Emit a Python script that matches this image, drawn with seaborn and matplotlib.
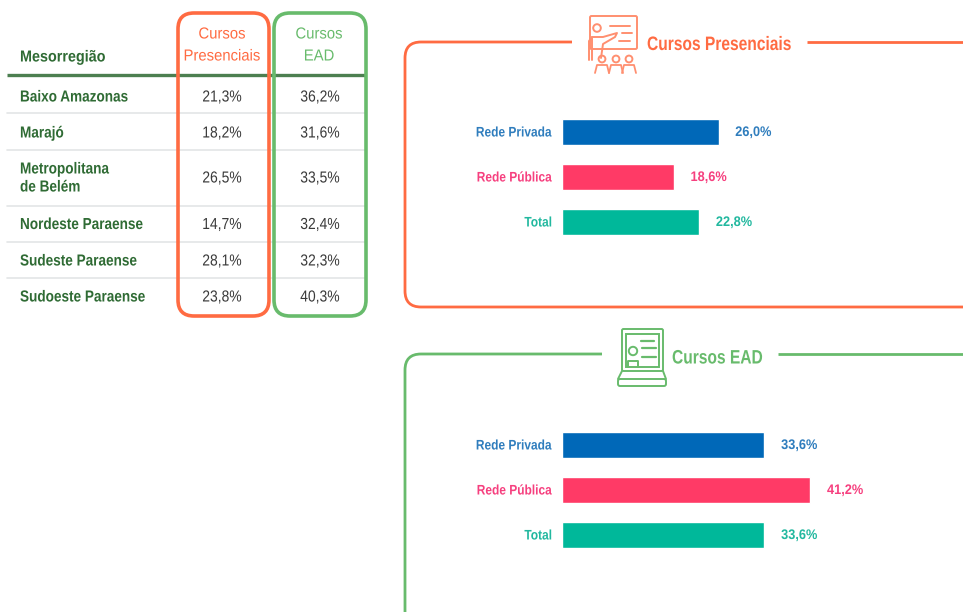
import matplotlib
matplotlib.use("Agg")
import matplotlib.pyplot as plt
from matplotlib.patches import FancyBboxPatch, PathPatch, Circle, Rectangle
from matplotlib.patheffects import AbstractPathEffect
from matplotlib.path import Path
from matplotlib.transforms import Affine2D
import pandas as pd
import seaborn as sns

regions = ["Baixo Amazonas", "Marajó", "Metropolitana\nde Belém", "Nordeste Paraense", "Sudeste Paraense", "Sudoeste Paraense"]
presencial_regions = [21.3, 18.2, 26.5, 14.7, 28.1, 23.8]
ead_regions = [36.2, 31.6, 33.5, 32.4, 32.3, 40.3]
networks = ["Rede Privada", "Rede Pública", "Total"]
presencial_network = [26.0, 18.6, 22.8]
ead_network = [33.6, 41.2, 33.6]

ORANGE = "#FF6B42"
GREEN = "#68BB6C"
DARK = "#2F6B34"
PALETTE = {"Rede Privada": "#0068B8", "Rede Pública": "#FF3A66", "Total": "#00B89A"}
TEXTCOL = {"Rede Privada": "#2F7DBD", "Rede Pública": "#F6407F", "Total": "#22B89F"}

sns.set_theme(style="white")
plt.rcParams["font.family"] = ["Liberation Sans", "DejaVu Sans"]

W, H = 963, 612
fig = plt.figure(figsize=(W / 100, H / 100), dpi=100, facecolor="white")
bg = fig.add_axes([0, 0, 1, 1])
bg.set_xlim(0, W)
bg.set_ylim(H, 0)
bg.axis("off")


class Squeeze(AbstractPathEffect):
    """Condense real text horizontally around a fixed display x."""

    def __init__(self, factor, pivot):
        super().__init__()
        self.factor = factor
        self.pivot = pivot

    def draw_path(self, renderer, gc, tpath, affine, rgbFace=None):
        extra = Affine2D().translate(-self.pivot, 0).scale(self.factor, 1).translate(self.pivot, 0)
        renderer.draw_path(gc, tpath, affine + extra, rgbFace)


squeezed = []


def label(x, y, s, factor, **kw):
    t = bg.text(x, y, s, va="center", **kw)
    squeezed.append((t, factor))
    return t


def fmt(v):
    return f"{v:.1f}".replace(".", ",") + "%"


# table
row_y = [97, 133, 178, 224.5, 261, 297]
for y in [113, 150, 206, 242, 278]:
    bg.plot([7, 365], [y, y], color="#E3E5E6", lw=1.2, zorder=1)
bg.plot([7, 365], [74.5, 74.5], color="#4C7F50", lw=2.4, zorder=2, solid_capstyle="butt")
label(20, 57, "Mesorregião", 0.9, color=DARK, fontsize=11.5, fontweight="bold", ha="left")
for r, y, a, b in zip(regions, row_y, presencial_regions, ead_regions):
    label(20, y, r, 0.85, color=DARK, fontsize=11.5, fontweight="bold", ha="left", linespacing=1.25)
    label(222, y, fmt(a), 0.87, color="#3A3A3A", fontsize=11.5, ha="center")
    label(320, y, fmt(b), 0.87, color="#3A3A3A", fontsize=11.5, ha="center")
for x, col, lines in [(222, ORANGE, ["Cursos", "Presenciais"]), (319, GREEN, ["Cursos", "EAD"])]:
    label(x, 34, lines[0], 0.93, color=col, fontsize=11.5, ha="center")
    label(x, 56, lines[1], 0.93, color=col, fontsize=11.5, ha="center")
for x0, x1, col in [(178, 269, ORANGE), (274, 366, GREEN)]:
    bg.add_patch(FancyBboxPatch((x0 + 16, 13 + 16), x1 - x0 - 32, 303 - 32,
                                boxstyle="round,pad=16,rounding_size=16",
                                fc="none", ec=col, lw=2.6, zorder=3))


# panel frames
def frame(y0, y1, x_left_end, x_right_start, col):
    r = 16
    verts = [(x_left_end, y0), (405 + r, y0), (405, y0), (405, y0 + r), (405, y1 - r), (405, y1), (405 + r, y1), (970, y1)]
    codes = [Path.MOVETO, Path.LINETO, Path.CURVE3, Path.CURVE3, Path.LINETO, Path.CURVE3, Path.CURVE3, Path.LINETO]
    bg.add_patch(PathPatch(Path(verts, codes), fc="none", ec=col, lw=2.0))
    bg.plot([x_right_start, 970], [y0, y0], color=col, lw=2.0, solid_capstyle="butt")


frame(42, 307, 572, 807, ORANGE)
frame(354, 640, 602, 778, GREEN)
label(647, 45.5, "Cursos Presenciais", 0.8, color=ORANGE, fontsize=14, fontweight="bold", ha="left")
label(672, 359, "Cursos EAD", 0.8, color=GREEN, fontsize=14, fontweight="bold", ha="left")

# presentation icon
ic = dict(fc="none", ec="#FF8F70", lw=1.4)
bg.add_patch(FancyBboxPatch((590, 16), 47, 33, boxstyle="round,pad=0,rounding_size=1.5", **ic))
bg.add_patch(Circle((597, 28), 3.8, **ic))
for x0, x1, y in [(610, 630, 26), (622, 632, 33), (619, 630, 41)]:
    bg.plot([x0, x1], [y, y], color="#FF8F70", lw=1.4)
bg.plot([589, 589, 592, 592], [60, 41, 37, 60], color="#FF8F70", lw=1.4)
bg.plot([592, 603, 617, 615, 603, 601], [37, 37, 33, 37, 44, 58], color="#FF8F70", lw=1.4)
for x in [602, 616, 629]:
    bg.add_patch(Circle((x, 59), 3.4, **ic))
    bg.plot([x - 7, x - 5, x + 5, x + 7], [73, 65, 65, 73], color="#FF8F70", lw=1.3)

# laptop icon
ic2 = dict(fc="none", ec=GREEN, lw=1.4)
bg.add_patch(FancyBboxPatch((622, 329), 41, 42, boxstyle="round,pad=0,rounding_size=1.5", **ic2))
bg.add_patch(Rectangle((626, 334), 33, 33, **ic2))
bg.add_patch(Circle((633, 351), 4.2, **ic2))
bg.plot([628, 628, 638, 638], [367, 361, 361, 367], color=GREEN, lw=1.4)
for x0, x1, y in [(641, 654, 341), (642, 656, 348), (642, 656, 357)]:
    bg.plot([x0, x1], [y, y], color=GREEN, lw=1.6)
bg.add_patch(FancyBboxPatch((618, 379), 48, 7, boxstyle="round,pad=0,rounding_size=2", **ic2))
bg.plot([622, 618], [371, 379], color=GREEN, lw=1.4)
bg.plot([663, 666], [371, 379], color=GREEN, lw=1.4)


# bar panels: x 562 + 6.04 px per percentage point
def bars(values, top):
    left, width = 561.5, 6.04 * 50
    height = 135
    ax = fig.add_axes([left / W, 1 - (top + height) / H, width / W, height / H])
    ax.patch.set_alpha(0)
    df = pd.DataFrame({"rede": networks, "valor": values})
    sns.barplot(data=df, x="valor", y="rede", hue="rede", palette=PALETTE, order=networks,
                hue_order=networks, dodge=False, legend=False, width=0.56, saturation=1, ax=ax)
    ax.set_xlim(0, 50)
    ax.set_ylim(2.5, -0.5)
    ax.set_xlabel("")
    ax.set_ylabel("")
    ax.set_xticks([])
    ax.tick_params(axis="y", length=0, pad=7)
    sns.despine(ax=ax, left=True, bottom=True)
    for t in ax.get_yticklabels():
        t.set_color(TEXTCOL[t.get_text()])
        t.set_fontweight("bold")
        t.set_fontsize(10)
        t.set_transform(t.get_transform() + Affine2D().translate(0, 1))
        squeezed.append((t, 0.86))
    for cont, name, v in zip(ax.containers, networks, values):
        for t in ax.bar_label(cont, labels=[fmt(v)], padding=12, color=TEXTCOL[name], fontsize=10, fontweight="bold"):
            squeezed.append((t, 0.92))


bars(presencial_network, 109.5)
bars(ead_network, 422.5)

fig.canvas.draw()
for t, factor in squeezed:
    box = t.get_window_extent()
    ha = t.get_ha()
    pivot = {"left": box.x0, "right": box.x1, "center": (box.x0 + box.x1) / 2}[ha]
    t.set_path_effects([Squeeze(factor, pivot)])

fig.savefig("out.png", dpi=100, facecolor="white")
